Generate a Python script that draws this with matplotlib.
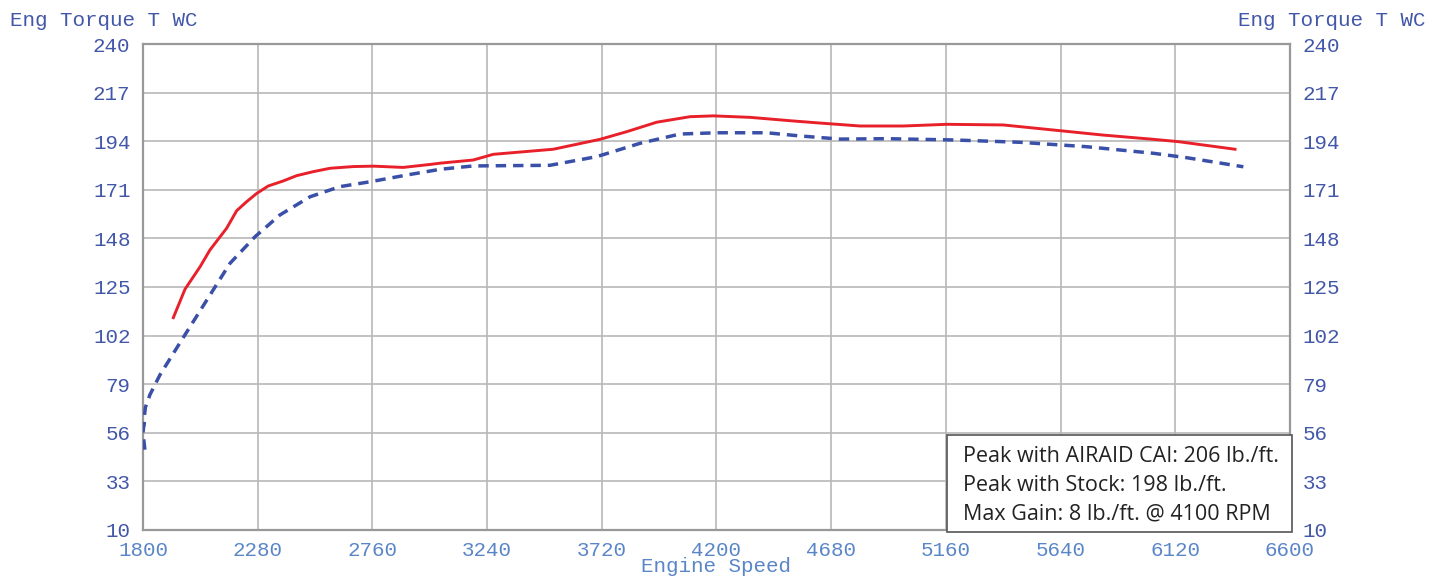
import matplotlib
matplotlib.use("Agg")
import matplotlib.pyplot as plt
from matplotlib.patches import Rectangle

rpm_airaid = [1927, 1976, 2039, 2080, 2150, 2192, 2234, 2276, 2324, 2387, 2443, 2513, 2583,
              2680, 2764, 2889, 3001, 3043, 3182, 3266, 3517, 3713, 3824, 3950, 4089, 4187,
              4340, 4508, 4633, 4801, 4982, 5163, 5400, 5610, 5819, 6028, 6133, 6370]
tq_airaid = [110.5, 124.0, 134.6, 142.5, 152.8, 161.1, 165.4, 169.3, 172.8, 175.2, 177.7, 179.6, 181.2,
             182.0, 182.2, 181.6, 183.0, 183.6, 185.1, 187.8, 190.2, 194.9, 198.5, 203.0, 205.6, 206.0,
             205.3, 203.7, 202.6, 201.2, 201.2, 202.0, 201.7, 199.3, 196.9, 194.9, 193.8, 190.2]

rpm_stock = [1808, 1800, 1806, 1800, 1810, 1829, 1871, 1962, 2067, 2164, 2269, 2373, 2499,
             2624, 2750, 2904, 3043, 3182, 3503, 3699, 3880, 4047, 4201, 4410, 4549,
             4717, 4912, 5191, 5470, 5749, 6028, 6168, 6405]
tq_stock = [48.0, 56.0, 62.0, 58.0, 68.0, 74.0, 83.4, 99.9, 118.8, 136.2, 148.8, 159.1, 167.7,
            172.5, 174.8, 178.0, 180.7, 182.3, 182.6, 186.7, 193.0, 197.4, 198.0, 198.0, 196.5,
            195.0, 195.2, 194.6, 193.5, 191.4, 188.3, 186.2, 181.9]

x_ticks = [1800, 2280, 2760, 3240, 3720, 4200, 4680, 5160, 5640, 6120, 6600]
y_ticks = [10, 33, 56, 79, 102, 125, 148, 171, 194, 217, 240]
y_label = "Eng Torque T WC"
x_label = "Engine Speed"
notes = ["Peak with AIRAID CAI: 206 lb./ft.",
         "Peak with Stock: 198 lb./ft.",
         "Max Gain: 8 lb./ft. @ 4100 RPM"]

mono = "Liberation Mono"
tick_blue = "#4257a8"
x_blue = "#5a86c8"
fs = 15

fig = plt.figure(figsize=(14.4, 5.77), dpi=100)
ax = fig.add_axes([0.0993, 0.0815, 0.7965, 0.8422])

ax.plot(rpm_stock, tq_stock, color="#3a50a8", lw=2.5, ls=(0, (3.0, 2.0)), zorder=3)
ax.plot(rpm_airaid, tq_airaid, color="#e8202a", lw=2.1, zorder=4)

ax.set_xlim(1800, 6600)
ax.set_ylim(10, 240)
ax.set_xticks(x_ticks)
ax.set_yticks(y_ticks)
ax.grid(True, color="#b8b8b8", lw=1.2)
ax.set_axisbelow(True)
for s in ax.spines.values():
    s.set_color("#999999")
    s.set_linewidth(1.6)

ax.tick_params(axis="both", length=0)
ax.tick_params(axis="y", left=False, right=False, labelleft=True, labelright=True,
               labelsize=fs, labelcolor=tick_blue, pad=9)
ax.tick_params(axis="x", labelsize=fs, labelcolor=x_blue, pad=8)
for lab in ax.get_xticklabels() + ax.get_yticklabels():
    lab.set_fontfamily(mono)

ax.set_xlabel(x_label, fontsize=fs, color=x_blue, family=mono, labelpad=-2)
fig.text(0.007, 0.965, y_label, fontsize=fs, color=tick_blue, family=mono,
         ha="left", va="center")
fig.text(0.990, 0.965, y_label, fontsize=fs, color=tick_blue, family=mono,
         ha="right", va="center")

box = Rectangle((0.701, -0.004), 0.3006, 0.1995, transform=ax.transAxes,
                fc="white", ec="#555555", lw=1.2, zorder=6, clip_on=False)
ax.add_patch(box)
for txt, yb in zip(notes, [0.1405, 0.0809, 0.0206]):
    ax.text(0.715, yb, txt, transform=ax.transAxes, fontsize=15.5,
            family="Open Sans", color="#222222", ha="left", va="baseline", zorder=7)

fig.savefig("out.png", dpi=100)
